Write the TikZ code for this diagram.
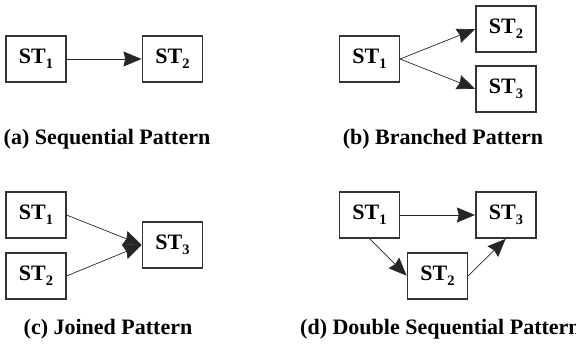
\documentclass[tikz,border=0pt]{standalone}
\usepackage{fontspec}
\setmainfont{Liberation Serif}
\usetikzlibrary{arrows.meta}
\newcommand{\stsub}[1]{\raisebox{-0.22em}{\fontsize{14.5}{15}\selectfont #1}}
\newcommand{\st}[1]{ST\stsub{#1}}
\begin{document}
\begin{tikzpicture}[x=1pt,y=-1pt,
  stbox/.style={draw=black!80, line width=1.1pt, minimum width=60pt, minimum height=46pt,
    inner sep=0pt, font=\fontsize{22}{24}\selectfont\bfseries},
  caption/.style={inner sep=0pt, font=\fontsize{22}{24}\selectfont\bfseries},
  flow/.style={draw=black!85, line width=0.7pt,
    -{Stealth[length=18pt, width=15pt, inset=1.8pt]}, shorten >=0.5pt}]
\useasboundingbox (0,0) rectangle (576,343);

% (a) sequential
\node[stbox] (a1) at (36,59) {\st{1}};
\node[stbox] (a2) at (172.5,59) {\st{2}};
\draw[flow] (a1.east) -- (a2.west);
\node[caption] (capa) at (107,139) {(a) Sequential Pattern};

% (b) branched
\node[stbox] (b1) at (369.5,59) {\st{1}};
\node[stbox] (b2) at (506,29) {\st{2}};
\node[stbox] (b3) at (506,89) {\st{3}};
\draw[flow] (b1.east) -- (b2.west);
\draw[flow] (b1.east) -- (b3.west);
\node[caption] (capb) at (443,139) {(b) Branched Pattern};

% (c) joined
\node[stbox] (c1) at (36,215) {\st{1}};
\node[stbox] (c2) at (36,276) {\st{2}};
\node[stbox] (c3) at (172.5,245) {\st{3}};
\draw[flow] (c1.east) -- (c3.west);
\draw[flow] (c2.east) -- (c3.west);
\node[caption] (capc) at (108,329) {(c) Joined Pattern};

% (d) double sequential; the caption runs past the right edge
\node[stbox] (d1) at (369.5,215) {\st{1}};
\node[stbox] (d3) at (506,215) {\st{3}};
\node[stbox] (d2) at (437.5,276) {\st{2}};
\draw[flow] (d1.east) -- (d3.west);
\draw[flow] (d1.south) -- (d2.west);
\draw[flow] (d2.east) -- (d3.south);
\node[caption, anchor=west] (capd) at (300,329) {(d) Double Sequential Pattern};
\end{tikzpicture}
\end{document}
